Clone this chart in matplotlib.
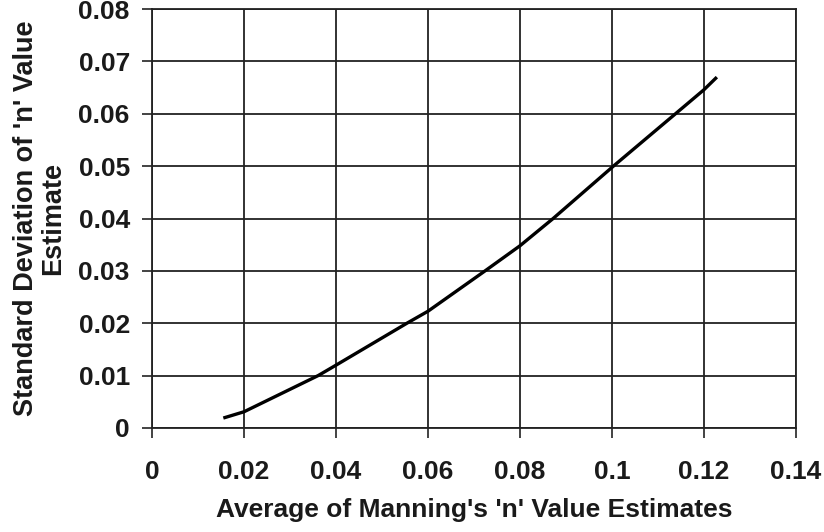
import matplotlib.pyplot as plt

# values
avg_n = [0.0155, 0.02, 0.0361, 0.04, 0.0554, 0.06, 0.0724, 0.08, 0.0872,
         0.1003, 0.1138, 0.12, 0.1228]
std_n = [0.0019, 0.0031, 0.0100, 0.0120, 0.0200, 0.0223, 0.0300, 0.0348,
         0.0400, 0.0500, 0.0600, 0.0646, 0.0670]

x_ticks = [0, 0.02, 0.04, 0.06, 0.08, 0.1, 0.12, 0.14]
x_labels = ['0', '0.02', '0.04', '0.06', '0.08', '0.1', '0.12', '0.14']
y_ticks = [0, 0.01, 0.02, 0.03, 0.04, 0.05, 0.06, 0.07, 0.08]
y_labels = ['0', '0.01', '0.02', '0.03', '0.04', '0.05', '0.06', '0.07', '0.08']

plt.rcParams['font.family'] = ['Liberation Sans', 'DejaVu Sans']
plt.rcParams['font.weight'] = 'bold'

fig = plt.figure(figsize=(8.24, 5.32), dpi=100)
ax = fig.add_axes([0.1845, 0.1955, 0.7815, 0.7875])

ax.plot(avg_n, std_n, color='black', lw=2.4, solid_capstyle='butt',
        solid_joinstyle='round')

ax.set_xlim(0, 0.14)
ax.set_ylim(0, 0.08)
ax.set_xticks(x_ticks)
ax.set_xticklabels(x_labels)
ax.set_yticks(y_ticks)
ax.set_yticklabels(y_labels)
ax.tick_params(labelsize=19, length=7, width=1.2, color='#222222',
               labelcolor='#1a1a1a')
ax.tick_params(axis='x', pad=16)
ax.tick_params(axis='y', pad=9)
for lab in ax.get_xticklabels() + ax.get_yticklabels():
    lab.set_fontweight('bold')

ax.grid(True, color='#222222', lw=1.3)
for side in ['top', 'right', 'left', 'bottom']:
    ax.spines[side].set_color('#222222')
    ax.spines[side].set_linewidth(1.3)

ax.set_xlabel("Average of Manning's 'n' Value Estimates", fontsize=19,
              fontweight='bold', color='#1a1a1a', labelpad=10)
ax.set_ylabel("Standard Deviation of 'n' Value\nEstimate", fontsize=19.5,
              fontweight='bold', color='#1a1a1a', labelpad=9, linespacing=1.05)

fig.savefig('out.png', dpi=100)
